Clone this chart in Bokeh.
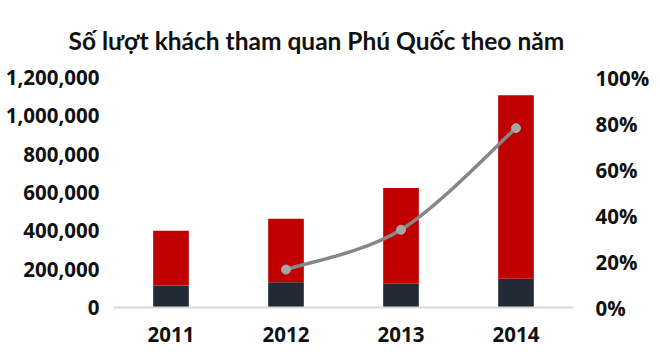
from bokeh.plotting import figure
from bokeh.models import Range1d, LinearAxis, FixedTicker, NumeralTickFormatter, ColumnDataSource
from bokeh.embed import file_html
from bokeh.resources import INLINE

years = ["2011", "2012", "2013", "2014"]
dark_part = [115000, 132000, 124000, 150000]
totals = [400000, 463000, 623000, 1107000]
growth_years = ["2012", "2013", "2014"]
growth = [0.165, 0.338, 0.78]

xs = [i + 1 for i in range(len(years))]
red_part = [t - d for t, d in zip(totals, dark_part)]

p = figure(width=652, height=352, output_backend="svg", toolbar_location=None,
           x_range=Range1d(0.5, len(years) + 0.5), y_range=Range1d(0, 1200000),
           min_border_left=113, min_border_right=75, min_border_bottom=45, min_border_top=77)
p.title.text = "Số lượt khách tham quan Phú Quốc theo năm"
p.title.text_font = "Lato"
p.title.text_font_size = "24.5px"
p.title.text_font_style = "bold"
p.title.text_color = "#111111"
p.title.align = "left"
p.title.offset = -45
p.title.standoff = 45
p.outline_line_color = None
p.xgrid.visible = False
p.ygrid.visible = False

src = ColumnDataSource(dict(x=xs, dark=dark_part, red=red_part))
p.vbar_stack(["dark", "red"], x="x", width=0.31, source=src,
             color=["#222A35", "#C00000"], line_color=None)

p.extra_y_ranges = {"pct": Range1d(0, 1.0)}
gx = [xs[years.index(y)] for y in growth_years]
gy = growth
# Catmull-Rom style smoothing computed from the data points
P = list(zip(gx, gy))
x0 = []; y0 = []; x1 = []; y1 = []; cx0 = []; cy0 = []; cx1 = []; cy1 = []
for i in range(len(P) - 1):
    pa = P[i - 1] if i > 0 else P[i]
    pb = P[i]
    pc = P[i + 1]
    pd = P[i + 2] if i + 2 < len(P) else P[i + 1]
    x0.append(pb[0]); y0.append(pb[1]); x1.append(pc[0]); y1.append(pc[1])
    cx0.append(pb[0] + (pc[0] - pa[0]) / 6); cy0.append(pb[1] + (pc[1] - pa[1]) / 6)
    cx1.append(pc[0] - (pd[0] - pb[0]) / 6); cy1.append(pc[1] - (pd[1] - pb[1]) / 6)
p.bezier(x0=x0, y0=y0, x1=x1, y1=y1, cx0=cx0, cy0=cy0, cx1=cx1, cy1=cy1,
         line_color="#878787", line_width=3.5, y_range_name="pct")
p.scatter(gx, gy, size=9, fill_color="#A6A6A6", line_color="#A6A6A6", y_range_name="pct")

tick_font = "Open Sans"
fs = "20.5px"

def style(ax, standoff):
    ax.major_tick_line_color = None
    ax.minor_tick_line_color = None
    ax.major_tick_out = 0
    ax.major_tick_in = 0
    ax.minor_tick_out = 0
    ax.major_label_text_font = tick_font
    ax.major_label_text_font_style = "bold"
    ax.major_label_text_font_size = fs
    ax.major_label_text_color = "#111111"
    ax.major_label_standoff = standoff

p.yaxis.ticker = FixedTicker(ticks=[0, 200000, 400000, 600000, 800000, 1000000, 1200000])
p.yaxis.formatter = NumeralTickFormatter(format="0,0")
p.yaxis.axis_line_color = None
style(p.yaxis[0], 14)

ra = LinearAxis(y_range_name="pct", ticker=FixedTicker(ticks=[0, 0.2, 0.4, 0.6, 0.8, 1.0]),
                formatter=NumeralTickFormatter(format="0%"))
ra.axis_line_color = None
style(ra, 22)
p.add_layout(ra, "right")

p.xaxis.ticker = FixedTicker(ticks=xs)
p.xaxis.major_label_overrides = {x: y for x, y in zip(xs, years)}
p.xaxis.axis_line_color = "#D9D9D9"
p.xaxis.axis_line_width = 2
style(p.xaxis[0], 19)

open("out.html", "w").write(file_html(p, INLINE))
